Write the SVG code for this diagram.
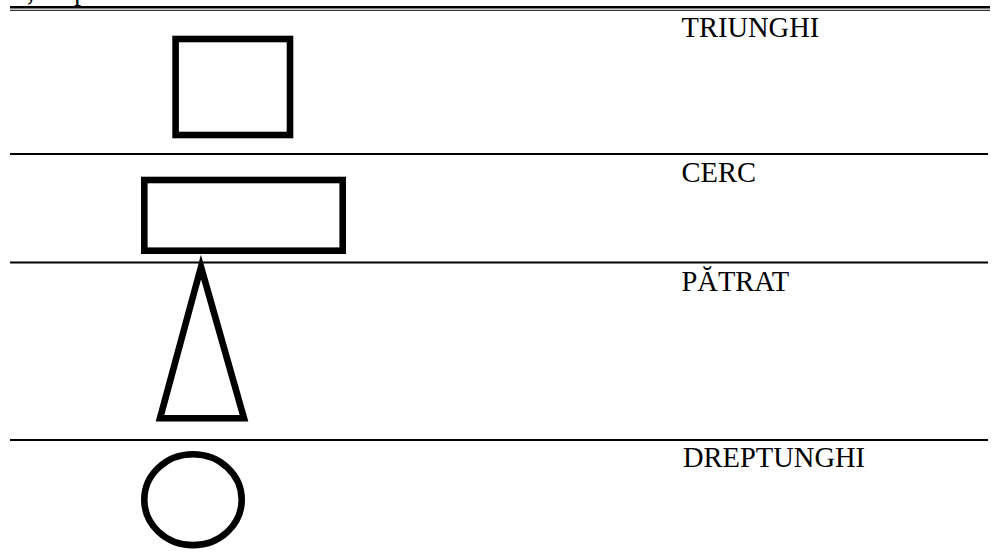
<svg xmlns="http://www.w3.org/2000/svg" width="993" height="553" viewBox="0 0 993 553">
<style>
.shape{fill:none;stroke:#000;stroke-width:6.6;stroke-linejoin:miter}
.rule{stroke:#000;stroke-width:2}
.lbl{font-family:"Liberation Serif",serif;font-size:28.5px;fill:#000}
</style>
<rect width="993" height="553" fill="#fff"/>
<text class="lbl" x="27" y="0">,</text>
<text class="lbl" x="74" y="0">p</text>
<g id="rules">
<line x1="10" y1="7.3" x2="990" y2="7.3" stroke="#000" stroke-width="2.6"/>
<line x1="10" y1="10.3" x2="990" y2="10.3" stroke="#000" stroke-width="1"/>
<line class="rule" x1="10" y1="154" x2="988" y2="154"/>
<line class="rule" x1="10" y1="262.5" x2="988" y2="262.5"/>
<line class="rule" x1="10" y1="440" x2="988" y2="440"/>
</g>
<g id="square"><rect class="shape" x="175.6" y="39" width="114.4" height="96"/></g>
<g id="rectangle"><rect class="shape" x="144.3" y="180" width="198.4" height="70.7"/></g>
<g id="triangle"><polygon class="shape" points="201,267 244,418.3 160,418.3"/></g>
<g id="circle"><ellipse class="shape" cx="193" cy="499.7" rx="48.7" ry="45.4"/></g>
<g id="label-triunghi"><text class="lbl" x="681.5" y="37.3">TRIUNGHI</text></g>
<g id="label-cerc"><text class="lbl" x="681.5" y="181.7">CERC</text></g>
<g id="label-patrat"><text class="lbl" x="681.5" y="290.5">PĂTRAT</text></g>
<g id="label-dreptunghi"><text class="lbl" x="683" y="466.7">DREPTUNGHI</text></g>
</svg>
